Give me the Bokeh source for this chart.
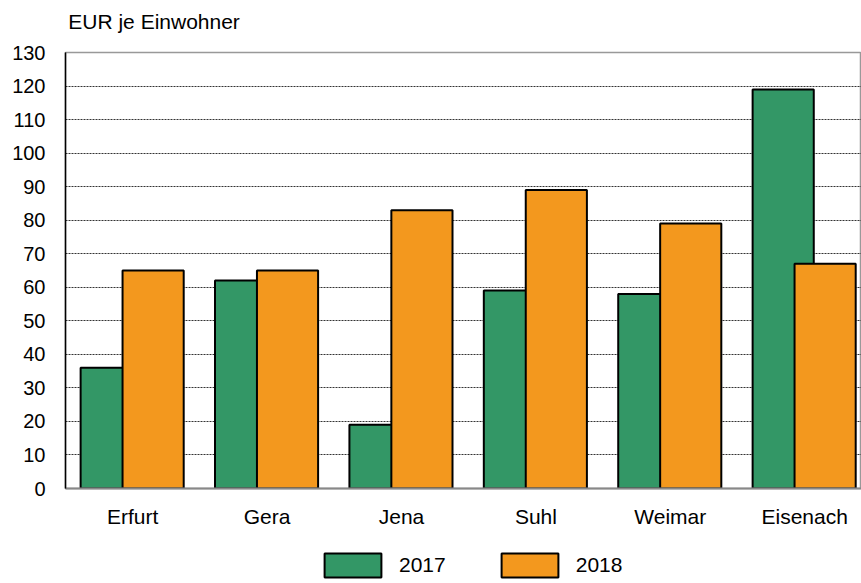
from bokeh.plotting import figure
from bokeh.models import Range1d, FixedTicker, Legend, LegendItem, ColumnDataSource, Label
from bokeh.layouts import column
from bokeh.transform import dodge
from bokeh.embed import file_html
from bokeh.resources import INLINE

categories = ["Erfurt", "Gera", "Jena", "Suhl", "Weimar", "Eisenach"]
values_2017 = [36, 62, 19, 59, 58, 119]
values_2018 = [65, 65, 83, 89, 79, 67]
y_ticks = list(range(0, 131, 10))
series_names = ["2017", "2018"]
unit_label = "EUR je Einwohner"

FONT = "Liberation Sans"
GREEN = "#339766"
ORANGE = "#f3981e"

xs = [i + 0.5 for i in range(len(categories))]
src = ColumnDataSource(dict(x=xs, v2017=values_2017, v2018=values_2018))

# title strip
pt = figure(width=861, height=40, output_backend="svg", toolbar_location=None,
            x_range=Range1d(0, 861), y_range=Range1d(0, 40), title=None,
            x_axis_location=None, y_axis_location=None,
            min_border_left=0, min_border_right=0, min_border_top=0, min_border_bottom=0)
pt.outline_line_color = None
pt.xgrid.visible = False
pt.ygrid.visible = False
pt.add_layout(Label(x=3, y=19, text=unit_label, text_font=FONT, text_font_size="21px",
                    text_color="black", text_baseline="middle", text_align="left"))

p = figure(width=861, height=495, output_backend="svg", toolbar_location=None, title=None,
           x_range=Range1d(0, 796 / 134.4), y_range=Range1d(0, 130),
           min_border_left=65, min_border_right=0, min_border_top=12, min_border_bottom=47)

r1 = p.vbar(x=dodge("x", -0.16, range=p.x_range), top="v2017", width=0.455, source=src,
            fill_color=GREEN, line_color="black", line_width=2)
r2 = p.vbar(x=dodge("x", 0.152, range=p.x_range), top="v2018", width=0.455, source=src,
            fill_color=ORANGE, line_color="black", line_width=2)

p.yaxis.ticker = FixedTicker(ticks=y_ticks)
p.yaxis.major_tick_line_color = None
p.yaxis.minor_tick_line_color = None
p.yaxis.axis_line_color = "black"
p.yaxis.axis_line_width = 1.5
p.yaxis.major_label_standoff = 14
p.yaxis.major_label_text_font = FONT
p.yaxis.major_label_text_font_size = "20px"
p.yaxis.major_label_text_color = "black"

p.xaxis.ticker = FixedTicker(ticks=xs)
p.xaxis.major_label_overrides = {x: c for x, c in zip(xs, categories)}
p.xaxis.major_tick_line_color = None
p.xaxis.minor_tick_line_color = None
p.xaxis.axis_line_color = "#888888"
p.xaxis.axis_line_width = 2
p.xaxis.major_label_standoff = 10
p.xaxis.major_label_text_font = FONT
p.xaxis.major_label_text_font_size = "21px"
p.xaxis.major_label_text_color = "black"

p.xgrid.visible = False
p.ygrid.ticker = FixedTicker(ticks=y_ticks[1:-1])
p.ygrid.grid_line_color = "#333333"
p.ygrid.grid_line_dash = "2 1"
p.ygrid.grid_line_width = 1

p.outline_line_color = "#999999"
p.outline_line_width = 1.5

# legend strip below the chart
pl = figure(width=861, height=48, output_backend="svg", toolbar_location=None, title=None,
            x_range=Range1d(0, 1), y_range=Range1d(0, 1),
            x_axis_location=None, y_axis_location=None,
            min_border_left=0, min_border_right=0, min_border_top=0, min_border_bottom=0)
pl.outline_line_color = None
pl.xgrid.visible = False
pl.ygrid.visible = False
l1 = pl.vbar(x="x", top="v2017", width=0.1, source=src, fill_color=GREEN,
             line_color="black", line_width=2, visible=False)
l2 = pl.vbar(x="x", top="v2018", width=0.1, source=src, fill_color=ORANGE,
             line_color="black", line_width=2, visible=False)

legend = Legend(items=[LegendItem(label=series_names[0], renderers=[l1]),
                       LegendItem(label=series_names[1], renderers=[l2])],
                orientation="horizontal", location=(252, 3),
                glyph_width=71, glyph_height=30, label_standoff=11, spacing=48,
                label_text_font=FONT, label_text_font_size="21px", label_text_color="black",
                border_line_color=None, background_fill_alpha=0,
                inactive_fill_alpha=0, padding=0, margin=0)
pl.add_layout(legend)

layout = column(pt, p, pl, spacing=0)
open("out.html", "w").write(file_html(layout, INLINE))
